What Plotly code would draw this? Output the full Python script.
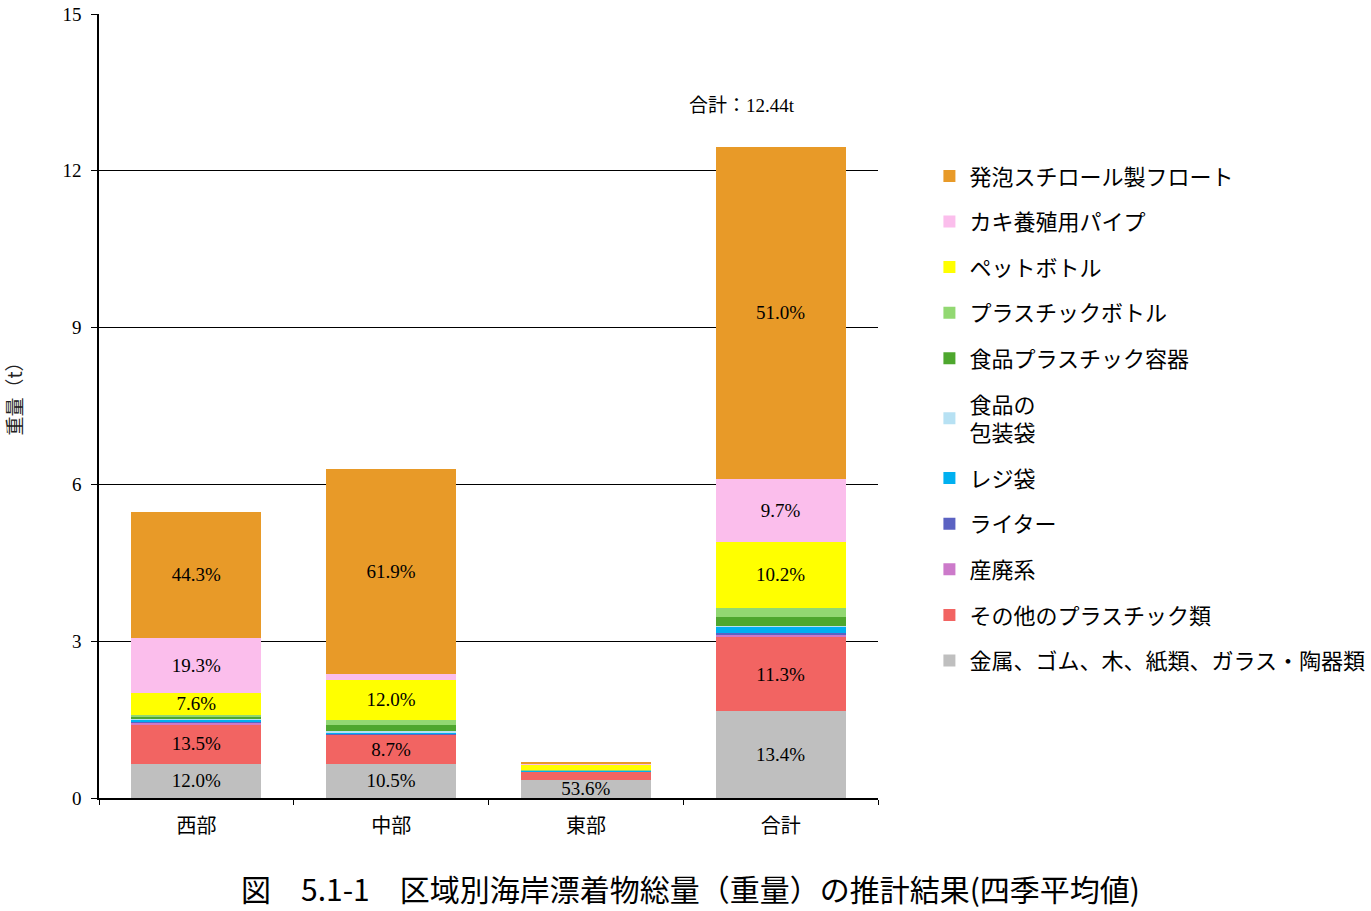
import plotly.graph_objects as go

regions = ["西部", "中部", "東部", "合計"]

# series, bottom to top
series_names = [
    "金属、ゴム、木、紙類、ガラス・陶器類",
    "その他のプラスチック類",
    "産廃系",
    "ライター",
    "レジ袋",
    "食品の<br>包装袋",
    "食品プラスチック容器",
    "プラスチックボトル",
    "ペットボトル",
    "カキ養殖用パイプ",
    "発泡スチロール製フロート",
]
gray_vals = [0.655, 0.66, 0.345, 1.667]
red_vals = [0.76, 0.55, 0.16, 1.406]
sanpai_vals = [0.03, 0.01, 0.004, 0.06]
lighter_vals = [0.02, 0.01, 0.003, 0.02]
rejibukuro_vals = [0.03, 0.03, 0.005, 0.12]
housou_vals = [0.02, 0.02, 0.004, 0.01]
youki_vals = [0.04, 0.11, 0.006, 0.18]
plabottle_vals = [0.04, 0.11, 0.012, 0.17]
pet_vals = [0.415, 0.76, 0.11, 1.269]
kaki_vals = [1.05, 0.12, 0.005, 1.207]
float_vals = [2.42, 3.91, 0.022, 6.344]

gray_text = ["12.0%", "10.5%", "53.6%", "13.4%"]
red_text = ["13.5%", "8.7%", "", "11.3%"]
pet_text = ["7.6%", "12.0%", "", "10.2%"]
kaki_text = ["19.3%", "", "", "9.7%"]
float_text = ["44.3%", "61.9%", "", "51.0%"]

total_label = "合計：12.44t"
y_ticks = [0, 3, 6, 9, 12, 15]

values = [gray_vals, red_vals, sanpai_vals, lighter_vals, rejibukuro_vals, housou_vals,
          youki_vals, plabottle_vals, pet_vals, kaki_vals, float_vals]
texts = [gray_text, red_text, None, None, None, None, None, None, pet_text, kaki_text, float_text]
colors = ["#BFBFBF", "#F26462", "#CC7ACA", "#5B62C2", "#00B0F0", "#B7E1F3",
          "#4EA72E", "#92D872", "#FFFF00", "#FBBEEC", "#E89A28"]

SERIF = "Liberation Serif, Noto Sans CJK JP, serif"
CJK = "Noto Sans CJK JP, sans-serif"

fig = go.Figure()
for i, (name, vals, txt, col) in enumerate(zip(series_names, values, texts, colors)):
    fig.add_trace(go.Bar(
        x=regions, y=vals, name=name, marker=dict(color=col, line=dict(width=0)),
        text=txt if txt else None, textposition="inside", insidetextanchor="middle",
        textfont=dict(family=SERIF, size=19, color="black"),
        legendgroup=name, legendrank=100 - i, hoverinfo="skip",
    ))

fig.update_layout(
    barmode="stack", bargap=0.333,
    width=1371, height=911,
    margin=dict(l=99, r=493, t=14, b=113, autoexpand=False),
    plot_bgcolor="white", paper_bgcolor="white",
    uniformtext=dict(minsize=19, mode="show"),
    font=dict(family=SERIF, color="black"),
    legend=dict(traceorder="grouped", x=1.066, y=0.82, xanchor="left", yanchor="top",
                font=dict(family=CJK, size=22, color="black"), tracegroupgap=14,
                itemwidth=30, bgcolor="rgba(0,0,0,0)"),
    xaxis=dict(showline=True, linecolor="black", linewidth=1.5, ticks="outside",
               tickson="boundaries", ticklen=5, tickcolor="black", automargin=False,
               ticklabelstandoff=9,
               tickfont=dict(family=SERIF, size=20, color="black")),
    yaxis=dict(range=[0, 15], tickvals=y_ticks, showline=True, linecolor="black", linewidth=1.5,
               ticks="outside", ticklen=6, tickcolor="black", showgrid=True,
               gridcolor="black", gridwidth=1, zeroline=False, automargin=False,
               ticklabelstandoff=6,
               tickfont=dict(family=SERIF, size=19, color="black")),
)

fig.add_annotation(x="合計", y=13.25, xshift=-39, text=total_label, showarrow=False,
                   font=dict(family=SERIF, size=19, color="black"))
fig.add_annotation(xref="paper", yref="paper", x=-0.11, y=0.515, text="重量（t）",
                   textangle=-90, showarrow=False, xanchor="center",
                   font=dict(family=CJK, size=19, color="#222222"))
fig.add_annotation(xref="paper", yref="paper", x=0.759, y=-0.115, xanchor="center",
                   yanchor="middle",
                   text="図\u30005.1-1\u3000区域別海岸漂着物総量（重量）の推計結果(四季平均値)",
                   showarrow=False, font=dict(family=CJK, size=30, color="black"))

fig.write_html("out.html")
